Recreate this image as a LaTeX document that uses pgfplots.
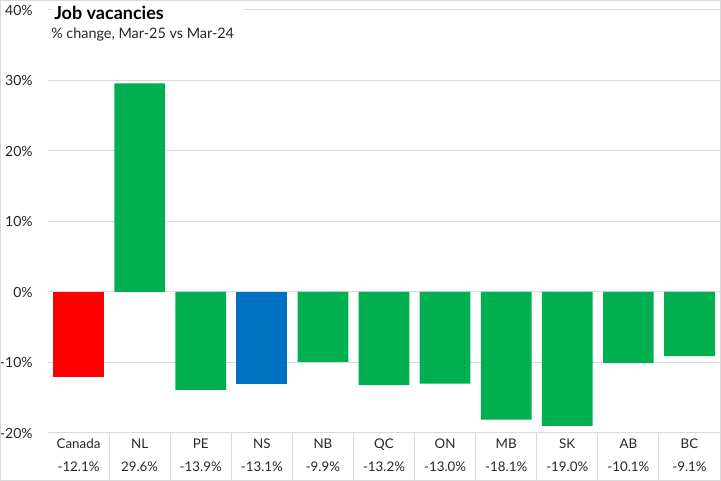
\documentclass[border=0pt]{standalone}
\usepackage{pgfplots}
\pgfplotsset{compat=1.18}
\usepackage{fontspec}
\setmainfont{Lato}
\definecolor{cgreen}{HTML}{00B050}
\definecolor{cred}{HTML}{FF0000}
\definecolor{cblue}{HTML}{0070C0}
\definecolor{cgrid}{HTML}{D9D9D9}
\definecolor{ctext}{HTML}{262626}
\begin{document}
\begin{tikzpicture}
\useasboundingbox (-36pt,-36pt) rectangle (504.75pt,324.75pt);
\begin{axis}[
  at={(0,0)}, anchor=south west,
  scale only axis, width=504pt, height=317.25pt,
  xmin=-0.5, xmax=10.5, ymin=-20, ymax=40,
  ybar, bar width=0.83, bar shift=0pt,
  axis line style={draw=none},
  ytick={-20,-10,0,10,20,30,40},
  ymajorgrids, grid style={cgrid, line width=0.75pt},
  major tick length=0pt,
  /pgf/number format/assume math mode=true,
  yticklabel={\pgfmathprintnumber{\tick}\%},
  yticklabel style={font=\fontsize{10.5}{12}\selectfont, text=ctext, xshift=-8pt},
  xtick={0,...,10},
  xticklabels={Canada\\[5pt]-12.1\%, NL\\[5pt]29.6\%, PE\\[5pt]-13.9\%, NS\\[5pt]-13.1\%, NB\\[5pt]-9.9\%, QC\\[5pt]-13.2\%, ON\\[5pt]-13.0\%, MB\\[5pt]-18.1\%, SK\\[5pt]-19.0\%, AB\\[5pt]-10.1\%, BC\\[5pt]-9.1\%},
  xticklabel style={font=\fontsize{10}{12}\selectfont, text=ctext, align=center, yshift=-1pt},
  clip=false,
]
\addplot[fill=cred, draw=none] coordinates {(0,-12.1)};
\addplot[fill=cgreen, draw=none] coordinates {(1,29.6) (2,-13.9) (4,-9.9) (5,-13.2) (6,-13.0) (7,-18.1) (8,-19.0) (9,-10.1) (10,-9.1)};
\addplot[fill=cblue, draw=none] coordinates {(3,-13.1)};
\foreach \k in {0.5,1.5,...,9.5} {
  \edef\tmp{\noexpand\draw[cgrid, line width=0.75pt] (axis cs:\k,-20) -- ([yshift=-36pt]axis cs:\k,-20);}\tmp
}
\end{axis}
\fill[white] (3pt,291pt) rectangle (147pt,320pt);
\node[anchor=base west, inner sep=0pt, font=\bfseries\fontsize{13.5}{15}\selectfont, text=black] at (4.5pt,309.75pt) {Job vacancies};
\node[anchor=base west, inner sep=0pt, font=\fontsize{10.8}{12}\selectfont, text=ctext] at (2.25pt,296pt) {\% change, Mar-25 vs Mar-24};
\draw[cgrid, line width=0.75pt] (-35.6pt,-35.6pt) rectangle (504.35pt,324.35pt);
\end{tikzpicture}
\end{document}
